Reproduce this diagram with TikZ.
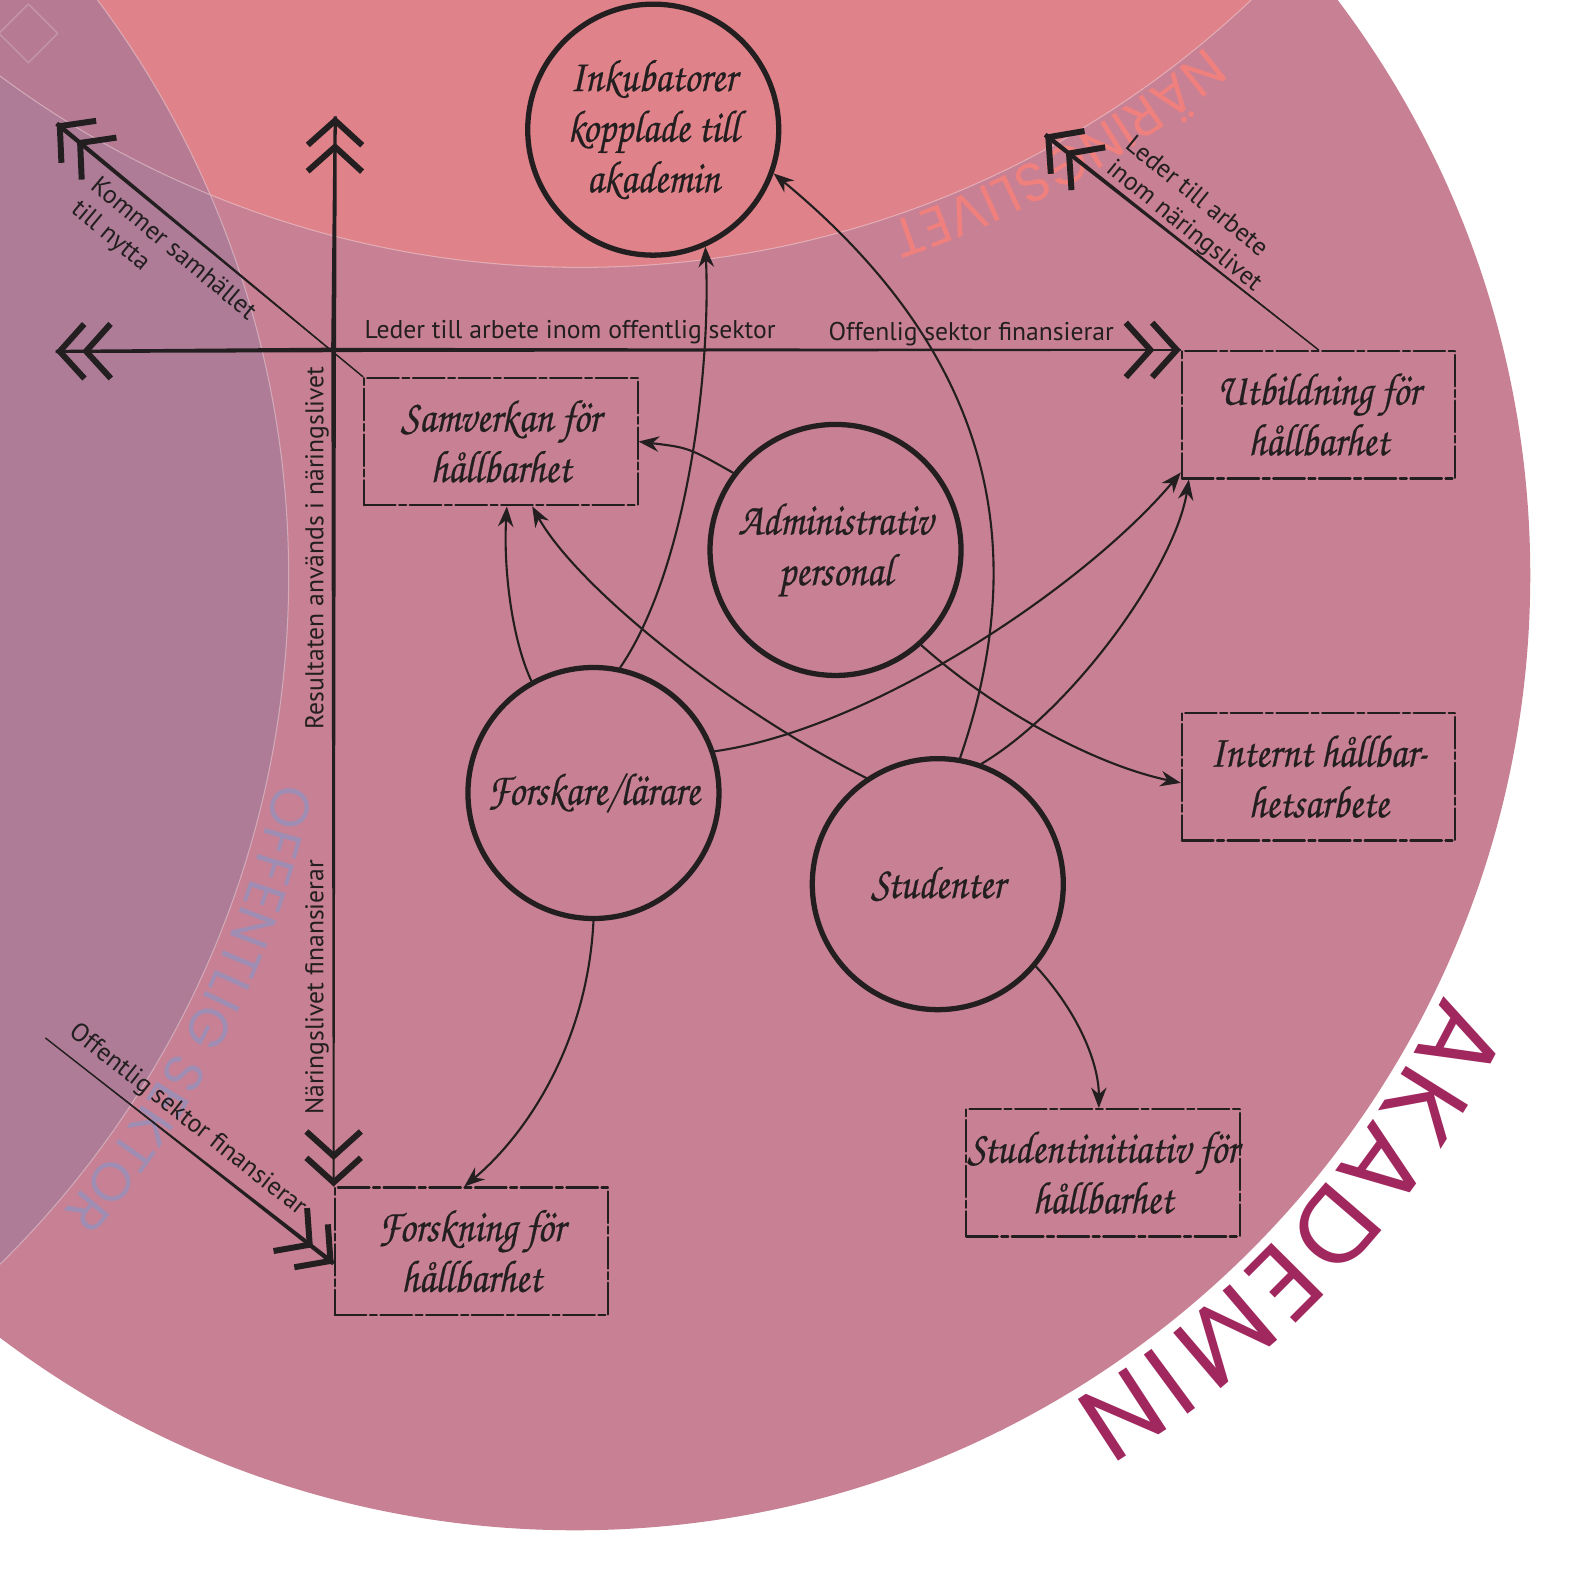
\documentclass[tikz,border=0pt]{standalone}
\usepackage{fontspec}
\setmainfont{PT Sans}
\newfontfamily\skript[FakeStretch=0.86,FakeBold=0.5]{texgyrechorus-mediumitalic.otf}
\newfontfamily\geo{Poppins}
\usetikzlibrary{arrows.meta,calc,decorations.text}
\definecolor{akad}{HTML}{C78094}
\definecolor{nlfill}{HTML}{DF8289}
\definecolor{offill}{HTML}{AE7C96}
\definecolor{tripfill}{HTML}{B67B93}
\definecolor{ink}{HTML}{231F20}
\definecolor{akadtext}{HTML}{A0285F}
\definecolor{nltext}{HTML}{F0807D}
\definecolor{oftext}{HTML}{9F8DB3}
\begin{document}
\begin{tikzpicture}[x=0.10128mm,y=-0.10128mm,line join=round,line cap=round,
  krets/.style={circle,draw=ink,line width=1.5pt,minimum size=25.1mm,inner sep=0pt,
    align=center,text=ink,font=\skript\fontsize{13}{14.4}\selectfont},
  boks/.style={rectangle,draw=ink,line width=.6pt,dash pattern=on 9pt off 1pt on 2pt off 1pt,
    minimum width=27.35mm,minimum height=12.75mm,inner sep=0pt,
    align=center,text=ink,font=\skript\fontsize{13}{14.4}\selectfont},
  pil/.style={draw=ink,line width=.6pt,-{Stealth[length=5.8pt,width=4.4pt]}},
  dubbel/.style={draw=ink,line width=.4pt,
    -{Straight Barb[length=7pt,width=15.5pt,line width=1.7pt,sep=-1.5pt]
      Straight Barb[length=7pt,width=15.5pt,line width=1.7pt]}},
  etikett/.style={text=ink,inner sep=0pt,font=\fontsize{7.3}{8.6}\selectfont}]
  \useasboundingbox (0,0) rectangle (1568,1568);
  \clip (0,0) rectangle (1568,1568);
  \def\taper#1#2#3#4{\fill[ink] ($(#1)!#3!90:(#2)$) -- ($(#2)!#4!-90:(#1)$)
    -- ($(#2)!#4!90:(#1)$) -- ($(#1)!#3!-90:(#2)$) -- cycle;}

  % cirklarna i bakgrunden
  \coordinate (akm) at (568,568);
  \coordinate (nlm) at (573,-699);
  \coordinate (ofm) at (-667,569);
  \fill[akad] (akm) circle (943);
  \fill[offill] (ofm) circle (952);
  \fill[nlfill] (nlm) circle (963);
  \begin{scope}
    \clip (ofm) circle (952);
    \fill[tripfill] (nlm) circle (963);
  \end{scope}
  \draw[white,opacity=.35,line width=.3pt] (ofm) circle (952) (nlm) circle (963);
  \draw[white,opacity=.2,line width=.4pt] (57,33) -- (28,62) -- (-1,33) -- (28,4) -- cycle;

  % sektorernas namn
  \foreach \bokstav/\vinkel in {A/27.8,K/32.0,A/36.2,D/40.7,E/44.9,M/49.5,I/53.6,N/56.9}
    \node[text=akadtext,font=\geo\fontsize{30}{30}\selectfont,inner sep=0pt,
      anchor=base,rotate=-\vinkel-90] at ($(akm)+(\vinkel:953)$) {\bokstav};
  \path[decorate,decoration={text along path,text align=center,
    text={|\geo\fontsize{15.5}{15.5}\selectfont\color{nltext}|NÄRINGSLIVET}}]
    (nlm) ++(41:968) arc[start angle=41,end angle=81,radius=968];
  \path[decorate,decoration={text along path,text align=center,
    text={|\geo\fontsize{15.5}{15.5}\selectfont\color{oftext}|OFFENTLIG SEKTOR}}]
    (ofm) ++(-1:962) arc[start angle=-1,end angle=54,radius=962];

  % noder
  \node[krets] (inkub) at (645,128) {Inkubatorer\\kopplade till\\akademin};
  \node[krets] (admin) at (825,543) {Administrativ\\personal};
  \node[krets] (forsk) at (586,783) {Forskare/lärare};
  \node[krets] (stud) at (926,873) {Studenter};
  \node[boks] (samv) at (494.5,436) {Samverkan för\\hållbarhet};
  \node[boks] (utb) at (1302,409.5) {Utbildning för\\hållbarhet};
  \node[boks] (intern) at (1302,767) {Internt hållbar-\\hetsarbete};
  \node[boks] (studinit) at (1089,1158) {Studentinitiativ för\\hållbarhet};
  \node[boks] (forskn) at (465.5,1235.5) {Forskning för\\hållbarhet};

  % axlarna
  \coordinate (kors) at (forskn.north west |- utb.north west);
  \coordinate (vspets) at (55,347);
  \coordinate (ospets) at (331,115);
  \coordinate (nwspets) at (56,122);
  \coordinate (nespets) at (1032,133);
  \coordinate (swstart) at (45,1025);
  \coordinate (swspets) at ($(forskn.west)+(0,12)$);
  \taper{kors}{vspets}{.65pt}{.45pt}
  \taper{kors}{utb.north west}{.6pt}{.25pt}
  \taper{kors}{ospets}{.7pt}{.45pt}
  \taper{kors}{forskn.north west}{.65pt}{.25pt}
  \taper{samv.north west}{nwspets}{.1pt}{.65pt}
  \taper{utb.north}{nespets}{.1pt}{.65pt}
  \taper{swstart}{swspets}{0pt}{.65pt}
  \draw[dubbel] (kors) -- (vspets);
  \draw[dubbel] (kors) -- (utb.north west);
  \draw[dubbel] (kors) -- (ospets);
  \draw[dubbel] (kors) -- (forskn.north west);
  \draw[dubbel] (samv.north west) -- (nwspets);
  \draw[dubbel] (utb.north) -- (nespets);
  \draw[dubbel] (swstart) -- (swspets);

  % pilar mellan noderna
  \draw[pil] (admin.143) .. controls (680,442) .. (samv.east);
  \draw[pil] (forsk.119) .. controls (505,630) and (497,560) .. ($(samv.south)+(6,0)$);
  \draw[pil] (forsk.78) .. controls (680,560) and (702,360) .. (inkub.-66);
  \draw[pil] (stud.124) .. controls (720,700) and (570,580) .. ($(samv.south)+(31,0)$);
  \draw[pil] (stud.80) .. controls (1020,540) and (980,350) .. (inkub.-20);
  \draw[pil] (stud.70) .. controls (1060,700) and (1160,560) .. ($(utb.south west)+(8,0)$);
  \draw[pil] (forsk.19) .. controls (860,720) and (1070,580) .. ($(utb.south west)+(0,-7)$);
  \draw[pil] (admin.-48) .. controls (980,700) and (1080,755) .. ($(intern.west)+(0,6)$);
  \draw[pil] (stud.-40) .. controls (1065,1000) and (1085,1050) .. ($(studinit.north)+(-4,0)$);
  \draw[pil] (forsk.south) .. controls (580,1030) and (520,1120) .. ($(forskn.north)+(-7,0)$);

  % etiketter
  \node[etikett] (ledoff) at (563,328) {Leder till arbete inom offentlig sektor};
  \node[etikett] (offfin) at (959,330) {Offenlig sektor finansierar};
  \node[etikett,rotate=90] (result) at (313,541) {Resultaten används i näringslivet};
  \node[etikett,rotate=90] (nlfin) at (313,975) {Näringslivet finansierar};
  \node[etikett,rotate=-39.8,align=left] (nytta) at (161,258) {Kommer samhället\\till nytta};
  \node[etikett,rotate=-39,align=left] (lednl) at (1178,212) {Leder till arbete\\inom näringslivet};
  \node[etikett,rotate=-38.2] (offsek) at (185,1106) {Offentlig sektor finansierar};
\end{tikzpicture}
\end{document}
